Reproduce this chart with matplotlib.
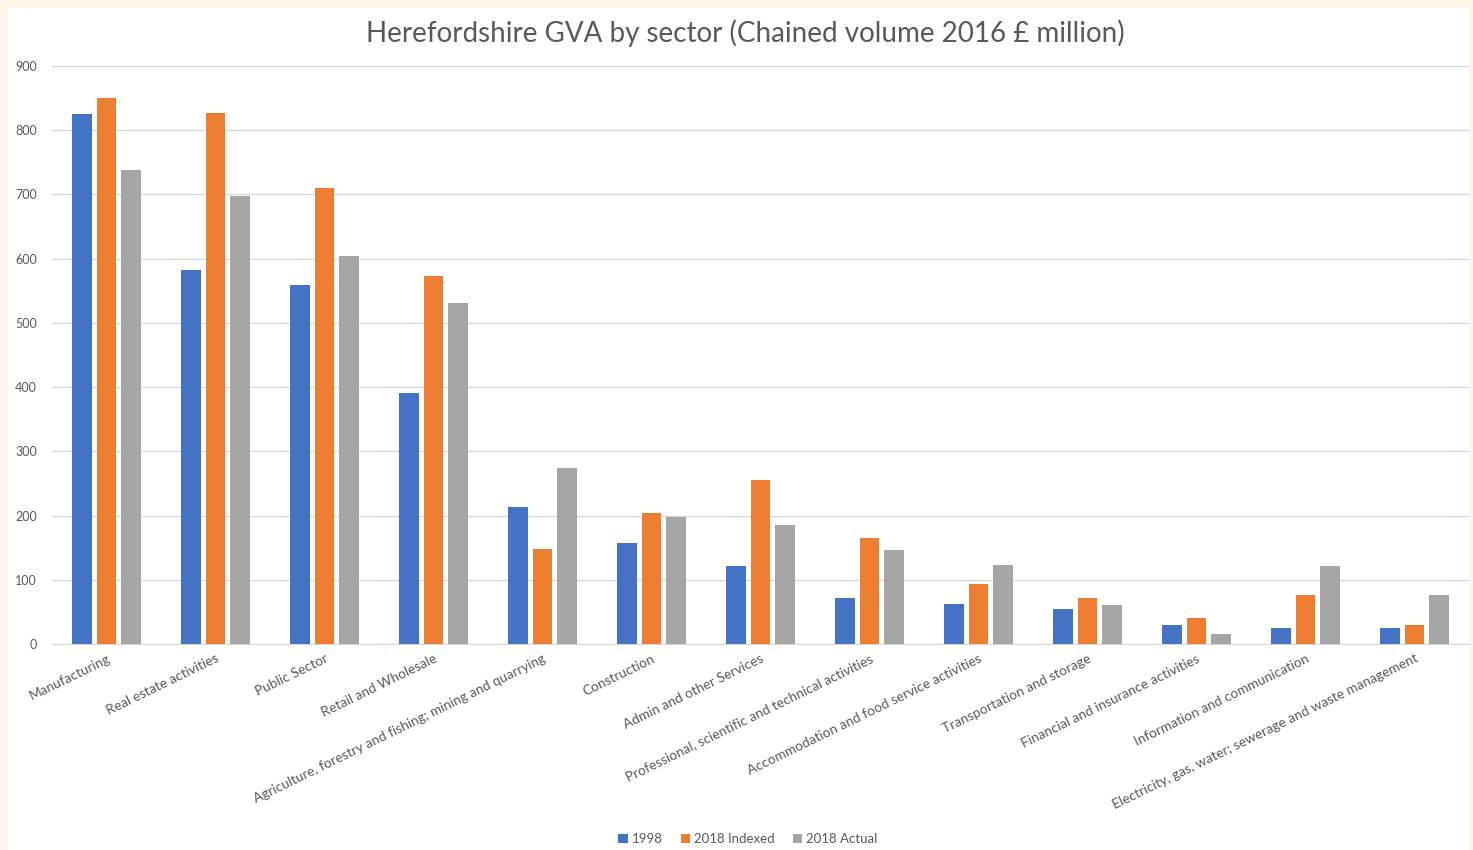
import numpy as np
import matplotlib.pyplot as plt
from matplotlib.patches import Rectangle

plt.rcParams['font.family'] = ['Lato', 'DejaVu Sans']

# GVA by sector, chained volume 2016 £ million
sectors = ['Manufacturing', 'Real estate activities', 'Public Sector', 'Retail and Wholesale',
           'Agriculture, forestry and fishing; mining and quarrying', 'Construction',
           'Admin and other Services', 'Professional, scientific and technical activities',
           'Accommodation and food service activities', 'Transportation and storage',
           'Financial and insurance activities', 'Information and communication',
           'Electricity, gas, water; sewerage and waste management']
gva_1998 = [825, 582, 559, 391, 213, 157, 121, 72, 62, 54, 30, 25, 25]
gva_2018_indexed = [850, 827, 710, 573, 148, 204, 255, 165, 93, 72, 40, 76, 30]
gva_2018_actual = [738, 698, 604, 531, 274, 198, 185, 146, 123, 61, 16, 121, 76]

series = [('1998', gva_1998, '#4472C4'),
          ('2018 Indexed', gva_2018_indexed, '#ED7D31'),
          ('2018 Actual', gva_2018_actual, '#A5A5A5')]

W, H = 1473, 850
fig = plt.figure(figsize=(W / 100, H / 100), dpi=100, facecolor='#FDF4EA')
# white chart panel behind everything
fig.patches.append(Rectangle((8 / W, 0), (1469 - 8) / W, (H - 8) / H,
                             transform=fig.transFigure, facecolor='white',
                             edgecolor='none', zorder=-10))

ax = fig.add_axes([52 / W, 206 / H, (1469 - 52) / W, (644 - 66) / H])
ax.set_facecolor('none')

x = np.arange(len(sectors))
width = 0.183
step = 0.225
for i, (name, vals, color) in enumerate(series):
    ax.bar(x + (i - 1) * step, vals, width, color=color, label=name, zorder=3)

ax.set_xlim(-0.5, len(sectors) - 0.5)
ax.set_ylim(0, 900)
ax.set_yticks(range(0, 901, 100))
ax.grid(axis='y', color='#D9D9D9', linewidth=1, zorder=0)
for side in ['top', 'right', 'left']:
    ax.spines[side].set_visible(False)
ax.spines['bottom'].set_color('#D9D9D9')
ax.tick_params(axis='both', length=0, colors='#595959', labelsize=9)
ax.tick_params(axis='y', pad=11)

ax.set_xticks(x)
ax.set_xticklabels(sectors, rotation=26, ha='right', va='top',
                   rotation_mode='anchor', fontsize=9.8, color='#595959')
ax.tick_params(axis='x', pad=6)

fig.text(745 / W, 1 - 33 / H, 'Herefordshire GVA by sector (Chained volume 2016 £ million)',
         ha='center', va='center', fontsize=20, color='#595959')

fig.legend(loc='center', bbox_to_anchor=(748 / W, 1 - 839 / H), ncol=3, frameon=False,
           fontsize=9.5, handlelength=0.7, handleheight=0.7, handletextpad=0.3,
           columnspacing=1.4, labelcolor='#595959')

fig.savefig('out.png', dpi=100, facecolor=fig.get_facecolor())
